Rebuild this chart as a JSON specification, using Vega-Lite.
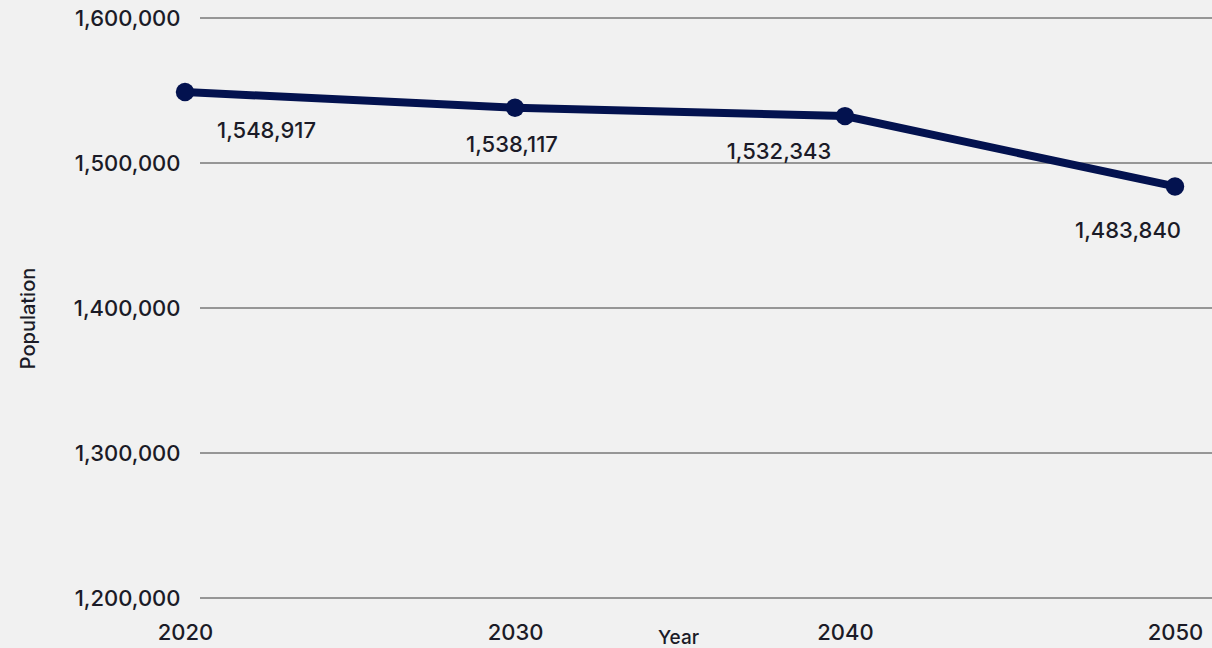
{
  "$schema": "https://vega.github.io/schema/vega-lite/v6.json",
  "autosize": "none",
  "width": 1012,
  "height": 580,
  "padding": {"left": 200, "top": 18, "right": 0, "bottom": 50},
  "background": "#f1f1f1",
  "config": {
    "view": {"stroke": null},
    "font": "Inter",
    "axis": {"labelFont": "Inter", "titleFont": "Inter", "labelColor": "#1b1b27", "titleColor": "#1b1b27"}
  },
  "datasets": {
    "pop": [
      {"year": 2020, "population": 1548917},
      {"year": 2030, "population": 1538117},
      {"year": 2040, "population": 1532343},
      {"year": 2050, "population": 1483840}
    ],
    "grid": [
      {"population": 1200000},
      {"population": 1300000},
      {"population": 1400000},
      {"population": 1500000},
      {"population": 1600000}
    ]
  },
  "data": {"name": "pop"},
  "encoding": {
    "x": {
      "field": "year",
      "type": "quantitative",
      "scale": {"domain": [2020, 2050], "range": [-15, 975], "nice": false, "zero": false},
      "axis": {
        "title": "Year",
        "values": [2020, 2030, 2040, 2050],
        "format": "d",
        "grid": false,
        "domain": false,
        "ticks": false,
        "labelPadding": 24,
        "labelFontSize": 22,
        "labelFontWeight": 500,
        "labelFlush": false,
        "labelOverlap": false,
        "titleFontSize": 19,
        "titleFontWeight": 500,
        "titleX": 478,
        "titleY": 30
      }
    },
    "y": {
      "field": "population",
      "type": "quantitative",
      "scale": {"domain": [1200000, 1600000], "nice": false, "zero": false},
      "axis": {
        "title": "Population",
        "values": [1200000, 1300000, 1400000, 1500000, 1600000],
        "format": ",d",
        "grid": false,
        "domain": false,
        "ticks": false,
        "labelPadding": 20,
        "labelFontSize": 22,
        "labelFontWeight": 500,
        "titleFontSize": 20,
        "titleFontWeight": 500,
        "titleX": -172,
        "titleY": 300,
        "titleBaseline": "middle",
        "titleAlign": "center",
        "titleAngle": -90
      }
    }
  },
  "layer": [
    {
      "data": {"name": "grid"},
      "mark": {"type": "rule", "color": "#3c3c3c", "strokeWidth": 1},
      "encoding": {
        "x": null,
        "y": {"field": "population", "type": "quantitative"}
      }
    },
    {"mark": {"type": "line", "color": "#03124f", "strokeWidth": 8, "clip": false}},
    {"mark": {"type": "point", "filled": true, "color": "#03124f", "opacity": 1, "size": 340, "clip": false}},
    {
      "transform": [{"filter": "datum.year == 2020"}],
      "mark": {"type": "text", "align": "left", "baseline": "middle", "dx": 32, "dy": 39, "fontSize": 22, "fontWeight": 500, "color": "#1b1b27", "font": "Inter", "clip": false},
      "encoding": {"text": {"field": "population", "type": "quantitative", "format": ",d"}}
    },
    {
      "transform": [{"filter": "datum.year == 2030"}],
      "mark": {"type": "text", "align": "center", "baseline": "middle", "dx": -3, "dy": 37, "fontSize": 22, "fontWeight": 500, "color": "#1b1b27", "font": "Inter"},
      "encoding": {"text": {"field": "population", "type": "quantitative", "format": ",d"}}
    },
    {
      "transform": [{"filter": "datum.year == 2040"}],
      "mark": {"type": "text", "align": "center", "baseline": "middle", "dx": -66, "dy": 36, "fontSize": 22, "fontWeight": 500, "color": "#1b1b27", "font": "Inter"},
      "encoding": {"text": {"field": "population", "type": "quantitative", "format": ",d"}}
    },
    {
      "transform": [{"filter": "datum.year == 2050"}],
      "mark": {"type": "text", "align": "center", "baseline": "middle", "dx": -47, "dy": 45, "fontSize": 22, "fontWeight": 500, "color": "#1b1b27", "font": "Inter"},
      "encoding": {"text": {"field": "population", "type": "quantitative", "format": ",d"}}
    }
  ]
}
